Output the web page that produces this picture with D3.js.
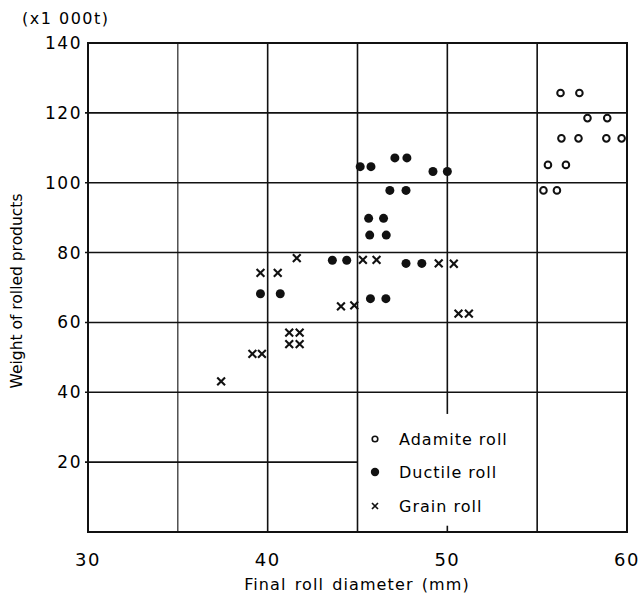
<!DOCTYPE html>
<html>
<head>
<meta charset="utf-8">
<script src="https://cdn.jsdelivr.net/npm/d3@7/dist/d3.min.js"></script>
<style>
  body { margin: 0; background: #fff; }
  text { font-family: "DejaVu Sans", sans-serif; fill: #000; }
</style>
</head>
<body>
<svg width="640" height="600"></svg>
<script>
var width = 640;
var height = 600;
var margin = {top: 43, right: 13, bottom: 68, left: 88};

// data: [diameter mm, weight x1000t]
var adamite = [
  [56.3, 125.7], [57.35, 125.7],
  [57.8, 118.5], [58.9, 118.5],
  [56.35, 112.7], [57.3, 112.7], [58.85, 112.7], [59.7, 112.7],
  [55.6, 105.1], [56.6, 105.1],
  [55.35, 97.8], [56.1, 97.8]
];
var ductile = [
  [45.15, 104.6], [45.75, 104.6],
  [47.08, 107.1], [47.75, 107.1],
  [49.2, 103.2], [50.0, 103.2],
  [46.8, 97.8], [47.7, 97.8],
  [45.62, 89.8], [46.45, 89.8],
  [45.68, 85.0], [46.6, 85.0],
  [43.6, 77.8], [44.4, 77.8],
  [47.7, 76.9], [48.58, 76.9],
  [39.6, 68.2], [40.7, 68.2],
  [45.72, 66.8], [46.58, 66.8]
];
var grain = [
  [41.62, 78.4],
  [39.6, 74.2], [40.56, 74.2],
  [45.3, 77.9], [46.06, 77.9],
  [49.52, 76.9], [50.36, 76.8],
  [44.08, 64.6], [44.82, 64.9],
  [50.62, 62.5], [51.2, 62.5],
  [41.2, 57.1], [41.78, 57.1],
  [41.2, 53.8], [41.78, 53.8],
  [39.15, 51.0], [39.68, 51.0],
  [37.41, 43.1]
];
var xTicks = [30, 40, 50, 60];
var yTicks = [20, 40, 60, 80, 100, 120, 140];
var xGrid = [35, 40, 45, 50, 55];
var yGrid = [20, 40, 60, 80, 100, 120];
var legendItems = ["Adamite roll", "Ductile roll", "Grain roll"];

var svg = d3.select("svg")
    .attr("width", width)
    .attr("height", height);

var x = d3.scaleLinear()
    .domain([30, 60])
    .range([margin.left, width - margin.right]);
var y = d3.scaleLinear()
    .domain([0, 140])
    .range([height - margin.bottom, margin.top]);

var g = svg.append("g");

// grid
g.selectAll(".vgrid")
  .data(xGrid)
  .enter().append("line")
    .attr("class", "vgrid")
    .attr("x1", function(d) { return x(d); })
    .attr("x2", function(d) { return x(d); })
    .attr("y1", y(0))
    .attr("y2", y(140))
    .style("stroke", "#111")
    .style("stroke-width", function(d) { return d == 35 ? 1.1 : 1.6; });

g.selectAll(".hgrid")
  .data(yGrid)
  .enter().append("line")
    .attr("class", "hgrid")
    .attr("x1", x(30) - 3)
    // the 20 line stops at the legend
    .attr("x2", function(d) { return d == 20 ? x(45) : x(60); })
    .attr("y1", function(d) { return y(d); })
    .attr("y2", function(d) { return y(d); })
    .style("stroke", "#111")
    .style("stroke-width", 1.6);

// legend box hides the grid under it
g.append("rect")
    .attr("x", x(45) + 1.5)
    .attr("y", y(33.8))
    .attr("width", x(55) - x(45) - 3)
    .attr("height", y(1.8) - y(33.8))
    .style("fill", "#fff");

// frame
g.append("rect")
    .attr("x", x(30))
    .attr("y", y(140))
    .attr("width", x(60) - x(30))
    .attr("height", y(0) - y(140))
    .style("fill", "none")
    .style("stroke", "#111")
    .style("stroke-width", 2);

// points
g.selectAll(".adamite")
  .data(adamite)
  .enter().append("circle")
    .attr("class", "adamite")
    .attr("cx", function(d) { return x(d[0]); })
    .attr("cy", function(d) { return y(d[1]); })
    .attr("r", 3.3)
    .style("fill", "#fff")
    .style("stroke", "#111")
    .style("stroke-width", 2);

g.selectAll(".ductile")
  .data(ductile)
  .enter().append("circle")
    .attr("class", "ductile")
    .attr("cx", function(d) { return x(d[0]); })
    .attr("cy", function(d) { return y(d[1]); })
    .attr("r", 4.5)
    .style("fill", "#111");

function crossPath(s) {
  return "M" + (-s) + "," + (-s) + "L" + s + "," + s + "M" + (-s) + "," + s + "L" + s + "," + (-s);
}

g.selectAll(".grain")
  .data(grain)
  .enter().append("path")
    .attr("class", "grain")
    .attr("transform", function(d) { return "translate(" + x(d[0]) + "," + y(d[1]) + ")"; })
    .attr("d", crossPath(3.9))
    .style("fill", "none")
    .style("stroke", "#111")
    .style("stroke-width", 2.1);

// axis labels
svg.selectAll(".xlab")
  .data(xTicks)
  .enter().append("text")
    .attr("class", "xlab")
    .attr("x", function(d) { return x(d); })
    .attr("y", 566)
    .attr("text-anchor", "middle")
    .style("font-size", "18px")
    .style("letter-spacing", "1.5px")
    .text(function(d) { return d; });

svg.selectAll(".ylab")
  .data(yTicks)
  .enter().append("text")
    .attr("class", "ylab")
    .attr("x", 82)
    .attr("y", function(d) { return y(d) + 6; })
    .attr("text-anchor", "end")
    .style("font-size", "17px")
    .style("letter-spacing", "1.5px")
    .text(function(d) { return d; });

svg.append("text")
    .attr("x", 22)
    .attr("y", 24)
    .style("font-size", "16px")
    .style("letter-spacing", "1.5px")
    .text("(x1 000t)");

svg.append("text")
    .attr("x", 357)
    .attr("y", 590)
    .attr("text-anchor", "middle")
    .style("font-size", "16px")
    .style("letter-spacing", "1.1px")
    .style("word-spacing", "2px")
    .text("Final roll diameter  (mm)");

svg.append("text")
    .attr("transform", "translate(22,291) rotate(-90)")
    .attr("text-anchor", "middle")
    .style("font-size", "15.5px")
    .text("Weight of rolled products");

// legend
var legend = svg.append("g")
    .attr("transform", "translate(375,0)");
var legendY = [439, 472, 506];

legend.append("circle")
    .attr("cx", 0).attr("cy", legendY[0])
    .attr("r", 2.8)
    .style("fill", "#fff").style("stroke", "#111").style("stroke-width", 1.6);
legend.append("circle")
    .attr("cx", 0).attr("cy", legendY[1])
    .attr("r", 4.2)
    .style("fill", "#111");
legend.append("path")
    .attr("transform", "translate(0," + legendY[2] + ")")
    .attr("d", crossPath(3))
    .style("stroke", "#111").style("stroke-width", 1.7);

legend.selectAll(".leg")
  .data(legendItems)
  .enter().append("text")
    .attr("class", "leg")
    .attr("x", 24)
    .attr("y", function(d, i) { return legendY[i] + 6; })
    .style("font-size", "16px")
    .style("letter-spacing", "1px")
    .text(function(d) { return d; });
</script>
</body>
</html>
